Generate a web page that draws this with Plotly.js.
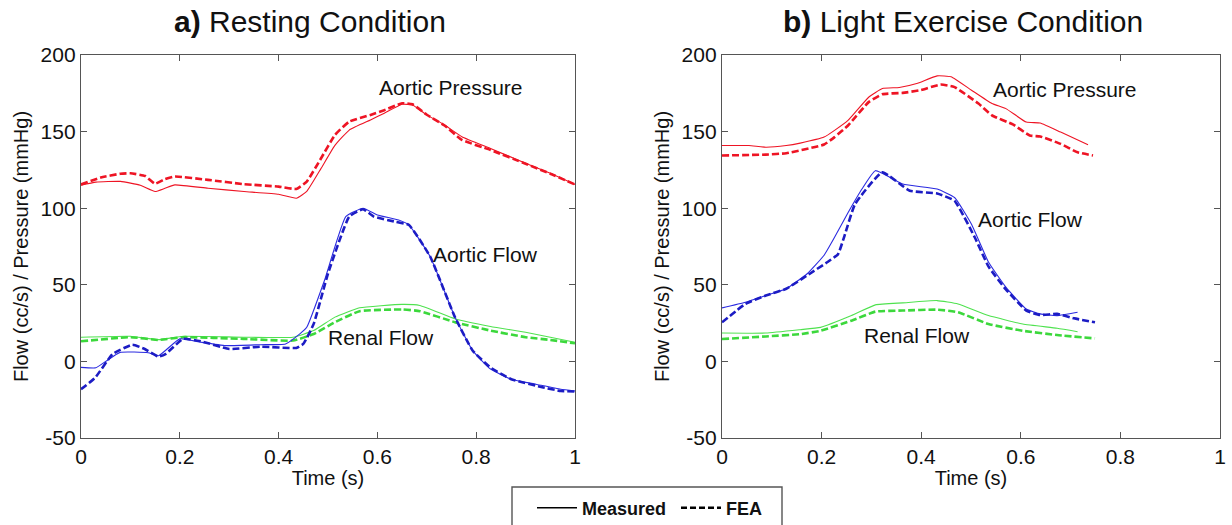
<!DOCTYPE html>
<html>
<head>
<meta charset="utf-8">
<script src="https://cdn.plot.ly/plotly-3.0.1.min.js"></script>
<style>html,body{margin:0;padding:0;background:#fff;}#chart{width:1232px;height:525px;}</style>
</head>
<body>
<div id="chart"></div>
<script>
// ---------- Panel a) Resting Condition ----------
const restPressMeasT = [0, 0.03, 0.08, 0.12, 0.15, 0.17, 0.19, 0.257, 0.33, 0.4, 0.436, 0.457, 0.486, 0.514, 0.543, 0.586, 0.614, 0.65, 0.671, 0.7, 0.736, 0.771, 0.829, 0.9, 0.95, 1.0];
const restPressMeasY = [115, 117, 117.5, 115, 110.9, 113, 115.2, 113, 110.9, 109.1, 106.5, 111, 126, 141, 151, 157.6, 162, 167.8, 167.4, 160.9, 154.3, 146.7, 139, 129.3, 122.8, 115.5];
const restPressFeaT = [0, 0.04, 0.08, 0.1, 0.13, 0.15, 0.17, 0.19, 0.257, 0.33, 0.4, 0.436, 0.457, 0.486, 0.514, 0.543, 0.586, 0.614, 0.65, 0.671, 0.7, 0.736, 0.771, 0.829, 0.9, 0.95, 1.0];
const restPressFeaY = [115.5, 120, 122.5, 122.8, 121, 116, 119, 120.7, 118.5, 115.7, 114.1, 112.6, 117.4, 132.6, 147.8, 156.5, 160.9, 164, 168.5, 167.8, 161, 154, 144.6, 138, 129, 122.5, 115.5];

const restAoFlowMeasT = [0, 0.03, 0.05, 0.079, 0.136, 0.157, 0.2, 0.243, 0.293, 0.364, 0.414, 0.443, 0.457, 0.493, 0.536, 0.571, 0.6, 0.643, 0.664, 0.707, 0.757, 0.793, 0.829, 0.871, 0.921, 0.971, 1.0];
const restAoFlowMeasY = [-3.9, -4.2, 0, 5.9, 5.7, 3.7, 14.7, 12.5, 10.3, 10.9, 11.4, 18, 22.3, 53, 94.5, 100, 95.6, 92.3, 89, 68.3, 28.9, 7, -5, -11.6, -14.9, -18.2, -19.3];
const restAoFlowFeaT = [0, 0.029, 0.064, 0.104, 0.129, 0.157, 0.171, 0.207, 0.243, 0.3, 0.364, 0.436, 0.45, 0.471, 0.5, 0.543, 0.571, 0.593, 0.636, 0.664, 0.707, 0.757, 0.793, 0.829, 0.871, 0.936, 0.971, 1.0];
const restAoFlowFeaY = [-18.2, -10.5, 4.8, 10.9, 8.1, 3.1, 4.8, 14.7, 13.1, 8.1, 9.6, 8.8, 11.4, 24.5, 57.3, 94.5, 99.3, 94.5, 91.2, 89, 68.3, 28.9, 7, -4, -11.6, -17, -19.3, -19.7];

const restRenalT = [0, 0.1, 0.157, 0.207, 0.329, 0.429, 0.471, 0.514, 0.564, 0.65, 0.686, 0.757, 0.829, 0.9, 0.95, 1.0];
const restRenalMeasY = [15.8, 16.4, 14.2, 16.4, 15.8, 15.8, 20.1, 28.9, 35, 37.2, 36.5, 27.8, 22.8, 19, 15.8, 12.5];
const restRenalFeaY = [13.1, 15.8, 14, 15.8, 14.7, 13.6, 17.9, 25.6, 32.8, 33.9, 32.8, 25.6, 20.1, 15.8, 14, 11.8];

// ---------- Panel b) Light Exercise Condition ----------
const exPressMeasT = [0, 0.054, 0.088, 0.129, 0.157, 0.205, 0.226, 0.253, 0.295, 0.322, 0.356, 0.391, 0.432, 0.46, 0.501, 0.542, 0.57, 0.611, 0.639, 0.68, 0.735];
const exPressMeasY = [140.9, 140.9, 139.8, 140.9, 142.5, 146.4, 150.8, 157.3, 172.6, 178.1, 178.8, 181.4, 186.4, 185.8, 177, 168.3, 165, 156.2, 155.6, 149.7, 141.4];
const exPressFeaT = [0, 0.088, 0.129, 0.205, 0.226, 0.253, 0.295, 0.322, 0.363, 0.398, 0.439, 0.466, 0.515, 0.542, 0.584, 0.618, 0.639, 0.68, 0.714, 0.745];
const exPressFeaY = [134.4, 135, 135.9, 141.6, 146.4, 154, 169.4, 174.4, 175.3, 177, 180.7, 179.2, 168.3, 160.6, 154.7, 147.5, 146.8, 142, 136.5, 134.4];

const exAoFlowMeasT = [0, 0.047, 0.088, 0.129, 0.171, 0.205, 0.226, 0.253, 0.281, 0.308, 0.363, 0.432, 0.467, 0.501, 0.535, 0.57, 0.611, 0.639, 0.673, 0.714];
const exAoFlowMeasY = [34.9, 38.6, 43, 47.4, 57.2, 69.3, 81, 97, 112.5, 124.5, 115.8, 112.5, 107, 89.5, 64.9, 48.5, 34.2, 31, 29.9, 32.1];
const exAoFlowFeaT = [0, 0.047, 0.088, 0.129, 0.171, 0.212, 0.233, 0.246, 0.267, 0.322, 0.377, 0.432, 0.467, 0.508, 0.535, 0.57, 0.611, 0.639, 0.673, 0.707, 0.749];
const exAoFlowFeaY = [25.5, 37.5, 43, 47.4, 56.1, 64.9, 70, 82, 102.6, 123.4, 111.4, 109.6, 104.8, 80.7, 62, 47, 33.2, 30.3, 31, 28.1, 25.5];

const exRenalMeasT = [0, 0.088, 0.157, 0.198, 0.26, 0.308, 0.363, 0.432, 0.474, 0.535, 0.604, 0.673, 0.714];
const exRenalMeasY = [18.5, 18.5, 20.7, 22.2, 29.9, 36.9, 38.2, 39.7, 37.5, 29.9, 24.4, 21.6, 19.4];
const exRenalFeaT = [0, 0.088, 0.157, 0.198, 0.26, 0.308, 0.363, 0.432, 0.474, 0.535, 0.604, 0.673, 0.749];
const exRenalFeaY = [14.6, 16.3, 17.8, 20, 26.6, 32.5, 33.2, 33.8, 32.1, 24.4, 20, 17.2, 15];

const xTickVals = [0, 0.2, 0.4, 0.6, 0.8, 1];
const xTickText = ['0', '0.2', '0.4', '0.6', '0.8', '1'];
const yTickVals = [-50, 0, 50, 100, 150, 200];
const yTickText = ['-50', '0', '50', '100', '150', '200'];

const panelTitles = ['<b>a)</b> Resting Condition', '<b>b)</b> Light Exercise Condition'];
const curveLabels = ['Aortic Pressure', 'Aortic Flow', 'Renal Flow'];
const legendNames = ['Measured', 'FEA'];

// ---------- styles ----------
const FONT = 'Liberation Sans, Arial, sans-serif';
const RED = '#ee1424', BLUE = '#2a2ae0', BLUE_D = '#1c1cc4', GREEN = '#4fe24f', GREEN_D = '#3cd83c';
const DASH = '7px,3px';

function meas(x, y, color, ax) {
  return {x: x, y: y, type: 'scatter', mode: 'lines', xaxis: ax[0], yaxis: ax[1], showlegend: false, hoverinfo: 'skip',
    line: {color: color, width: 1.1, shape: 'spline', smoothing: 0.4}};
}
function fea(x, y, color, ax) {
  return {x: x, y: y, type: 'scatter', mode: 'lines', xaxis: ax[0], yaxis: ax[1], showlegend: false, hoverinfo: 'skip',
    line: {color: color, width: 2.6, dash: DASH, shape: 'spline', smoothing: 0.4}};
}
const A = ['x', 'y'], B = ['x2', 'y2'];

const traces = [
  meas(restPressMeasT, restPressMeasY, RED, A),
  fea(restPressFeaT, restPressFeaY, RED, A),
  meas(restRenalT, restRenalMeasY, GREEN, A),
  fea(restRenalT, restRenalFeaY, GREEN_D, A),
  meas(restAoFlowMeasT, restAoFlowMeasY, BLUE, A),
  fea(restAoFlowFeaT, restAoFlowFeaY, BLUE_D, A),
  meas(exPressMeasT, exPressMeasY, RED, B),
  fea(exPressFeaT, exPressFeaY, RED, B),
  meas(exRenalMeasT, exRenalMeasY, GREEN, B),
  fea(exRenalFeaT, exRenalFeaY, GREEN_D, B),
  meas(exAoFlowMeasT, exAoFlowMeasY, BLUE, B),
  fea(exAoFlowFeaT, exAoFlowFeaY, BLUE_D, B),
  // legend-only entries
  {x: [null], y: [null], type: 'scatter', mode: 'lines', name: legendNames[0], line: {color: '#000', width: 1.6}, xaxis: 'x', yaxis: 'y'},
  {x: [null], y: [null], type: 'scatter', mode: 'lines', name: legendNames[1], line: {color: '#000', width: 2.6, dash: '6px,3px'}, xaxis: 'x', yaxis: 'y'}
];

function xAxis(domain, anchor) {
  return {domain: domain, anchor: anchor, range: [0, 1], tickvals: xTickVals, ticktext: xTickText,
    ticks: 'inside', ticklen: 6, tickcolor: '#555', showline: true, linecolor: '#555', linewidth: 1.2, mirror: 'ticks',
    showgrid: false, zeroline: false, automargin: false, tickfont: {family: FONT, size: 21, color: '#111'},
    title: {text: 'Time (s)', font: {family: FONT, size: 20, color: '#111'}, standoff: 2}};
}
function yAxis(anchor) {
  return {domain: [0, 1], anchor: anchor, range: [-50, 200], tickvals: yTickVals, ticktext: yTickText,
    ticks: 'inside', ticklen: 6, tickcolor: '#555', showline: true, linecolor: '#555', linewidth: 1.2, mirror: 'ticks',
    showgrid: false, zeroline: false, automargin: false, tickfont: {family: FONT, size: 21, color: '#111'},
    title: {text: 'Flow (cc/s) / Pressure (mmHg)', font: {family: FONT, size: 20, color: '#111'}, standoff: 6}};
}

const L = 81, R = 12, T = 55, Bm = 87, W = 1232, H = 525;
const PW = W - L - R, PH = H - T - Bm;
const px = v => (v - L) / PW;
const py = v => (H - Bm - v) / PH;

function lbl(text, x, y, xr, yr) {
  return {text: text, x: x, y: y, xref: xr, yref: yr, showarrow: false, xanchor: 'center', yanchor: 'middle',
    font: {family: FONT, size: 21, color: '#111'}};
}

const layout = {
  width: W, height: H,
  margin: {l: L, r: R, t: T, b: Bm, autoexpand: false},
  paper_bgcolor: '#fff', plot_bgcolor: '#fff',
  font: {family: FONT, color: '#111'},
  xaxis: xAxis([0, px(575)], 'y'),
  yaxis: yAxis('x'),
  xaxis2: xAxis([px(722), 1], 'y2'),
  yaxis2: yAxis('x2'),
  showlegend: true,
  legend: {orientation: 'h', xref: 'container', yref: 'container', x: 532 / W, y: 1 - 508 / H, xanchor: 'left', yanchor: 'middle',
    font: {family: FONT, size: 18, color: '#111', weight: 'bold'}, bgcolor: 'rgba(0,0,0,0)', borderwidth: 0,
    itemwidth: 40, entrywidth: 89, tracegroupgap: 0},
  shapes: [{type: 'rect', xref: 'paper', yref: 'paper', x0: px(512), x1: px(782), y0: py(487), y1: py(560),
    line: {color: '#555', width: 1.4}, fillcolor: 'rgba(0,0,0,0)'}],
  annotations: [
    {text: panelTitles[0], x: px(310), y: py(22), xref: 'paper', yref: 'paper', showarrow: false, xanchor: 'center', yanchor: 'middle',
      font: {family: FONT, size: 30, color: '#111'}},
    {text: panelTitles[1], x: px(963), y: py(22), xref: 'paper', yref: 'paper', showarrow: false, xanchor: 'center', yanchor: 'middle',
      font: {family: FONT, size: 30, color: '#111'}},
    lbl(curveLabels[0], 0.749, 179, 'x', 'y'),
    lbl(curveLabels[1], 0.818, 70, 'x', 'y'),
    lbl(curveLabels[2], 0.607, 15.8, 'x', 'y'),
    lbl(curveLabels[0], 0.688, 177.7, 'x2', 'y2'),
    lbl(curveLabels[1], 0.619, 92.8, 'x2', 'y2'),
    lbl(curveLabels[2], 0.392, 17.2, 'x2', 'y2')
  ]
};

Plotly.newPlot('chart', traces, layout, {displayModeBar: false, staticPlot: true});
</script>
</body>
</html>
